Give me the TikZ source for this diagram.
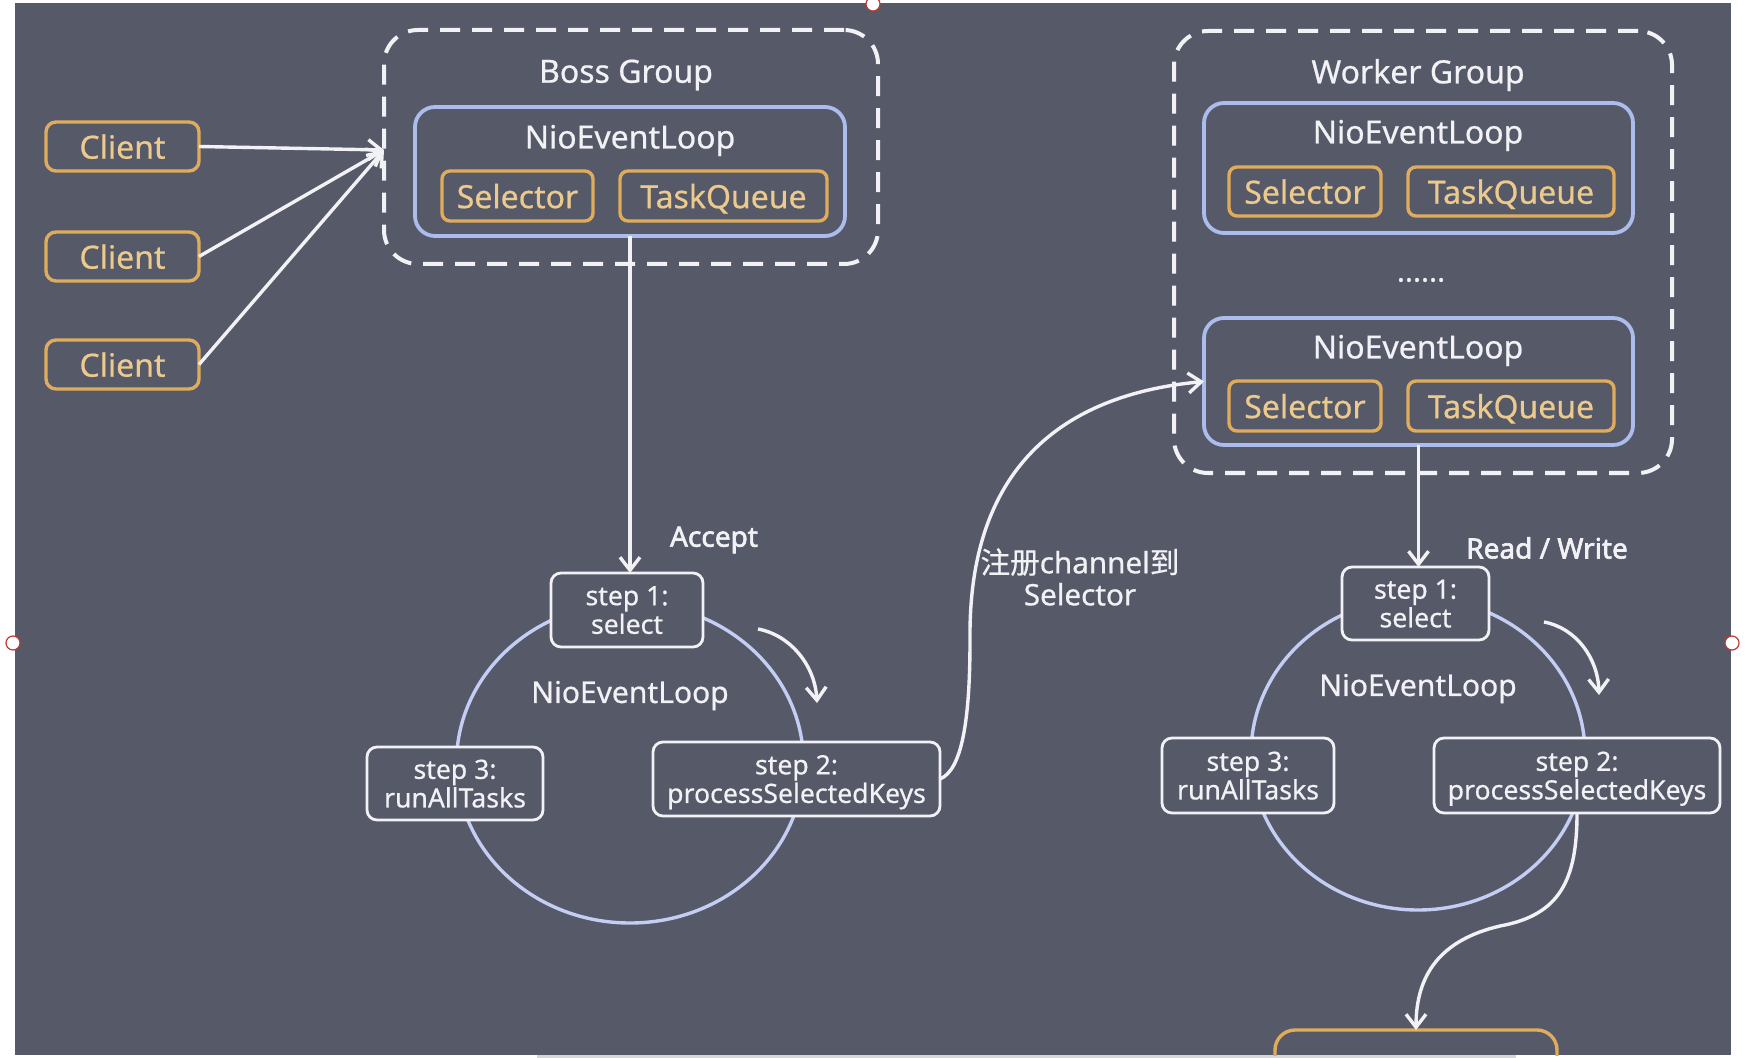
\documentclass[tikz,border=0pt]{standalone}
\usepackage{fontspec}
\setmainfont{Noto Sans}[FakeBold=0.6]
\newfontfamily\heavy{Noto Sans}[FakeBold=2.2]
\newfontfamily\cjk{Noto Sans CJK SC}[FakeBold=0.6]
\usetikzlibrary{arrows.meta,shapes.geometric}
\definecolor{bgc}{RGB}{86,89,104}
\definecolor{orb}{RGB}{224,172,92}
\definecolor{ort}{RGB}{236,202,142}
\definecolor{blb}{RGB}{172,188,236}
\definecolor{wht}{RGB}{242,242,246}
\definecolor{cir}{RGB}{196,206,244}
\definecolor{hdl}{RGB}{190,60,50}
\definecolor{barc}{RGB}{215,215,218}
\begin{document}
\begin{tikzpicture}[x=0.5pt,y=-0.5pt,
  every node/.style={inner sep=0pt,outer sep=0pt},
  group/.style={draw=wht,line width=2pt,dash pattern=on 10pt off 6pt,rounded corners=17pt},
  loopbox/.style={draw=blb,line width=1.9pt,rounded corners=10pt},
  obox/.style={draw=orb,line width=1.7pt,rounded corners=4pt,text=ort,text depth=0pt,font=\fontsize{16}{18}\selectfont},
  title/.style={text=wht,font=\fontsize{16}{18}\selectfont},
  stepbox/.style={draw=wht,line width=1.4pt,rounded corners=5pt,fill=bgc,text=wht,align=center,text depth=0pt,font=\fontsize{13.3}{12.5}\selectfont},
  ring/.style={ellipse,draw=cir,line width=1.7pt},
  arr/.style={draw=wht,line width=1.7pt,-{Straight Barb[length=6.5pt,width=10pt]}},
  lbl/.style={text=wht,font=\heavy\fontsize{14}{16}\selectfont},
]
\path[use as bounding box] (0,0) rectangle (1754,1058);
\fill[white] (0,0) rectangle (1754,1058);
\fill[bgc] (15,3) rectangle (1731,1055);
\fill[barc] (537,1055) rectangle (1516,1058);

% clients
\node[obox,minimum width=76.5pt,minimum height=24.5pt,rounded corners=5pt] (c1) at (122.5,146.5) {Client};
\node[obox,minimum width=76.5pt,minimum height=24.5pt,rounded corners=5pt] (c2) at (122.5,256.5) {Client};
\node[obox,minimum width=76.5pt,minimum height=24.5pt,rounded corners=5pt] (c3) at (122.5,364.5) {Client};

% boss group
\node[group,minimum width=247pt,minimum height=117pt] (boss) at (631,147) {};
\node[title] (bosst) at (626,75) {Boss Group};
\node[loopbox,minimum width=215pt,minimum height=64.5pt] (bnel) at (630,171.5) {};
\node[title] (bnelt) at (630,140.5) {NioEventLoop};
\node[obox,minimum width=75.5pt,minimum height=25pt] (bsel) at (517.5,196) {Selector};
\node[obox,minimum width=103.5pt,minimum height=25pt] (btq) at (723.5,196) {TaskQueue};
\coordinate (bin) at (384,150);

% worker group
\node[group,minimum width=249pt,minimum height=221pt] (worker) at (1423,252) {};
\node[title] (workert) at (1418,75) {Worker Group};
\node[loopbox,minimum width=214.5pt,minimum height=65pt] (wnel1) at (1418.5,168) {};
\node[title] (wnel1t) at (1418,135.5) {NioEventLoop};
\node[obox,minimum width=76pt,minimum height=24.5pt] (wsel1) at (1305,191.5) {Selector};
\node[obox,minimum width=103pt,minimum height=24.5pt] (wtq1) at (1511,191.5) {TaskQueue};
\node[title,font=\fontsize{15}{16}\selectfont] (dots) at (1421,280) {......};
\node[loopbox,minimum width=214.5pt,minimum height=63.5pt] (wnel2) at (1418.5,381.5) {};
\node[title] (wnel2t) at (1418,350.5) {NioEventLoop};
\node[obox,minimum width=76pt,minimum height=25pt] (wsel2) at (1305,406) {Selector};
\node[obox,minimum width=103pt,minimum height=25pt] (wtq2) at (1511,406) {TaskQueue};

% boss loop
\node[ring,minimum width=173.5pt,minimum height=160pt] (bring) at (630,763) {};
\node[title,font=\fontsize{15}{16}\selectfont] (bringt) at (630,695.5) {NioEventLoop};
\node[stepbox,minimum width=76pt,minimum height=37pt] (bs1) at (627,610) {step 1:\\select};
\node[stepbox,minimum width=88pt,minimum height=36.5pt] (bs3) at (455,783.5) {step 3:\\runAllTasks};
\node[stepbox,minimum width=143.5pt,minimum height=37pt] (bs2) at (796.5,779) {step 2:\\processSelectedKeys};
\node[lbl] (acc) at (714,540) {Accept};
\coordinate (bca) at (758,629);
\coordinate (bcb) at (817,703);

% worker loop
\node[ring,minimum width=167pt,minimum height=156pt] (wring) at (1418,754) {};
\node[title,font=\fontsize{15}{16}\selectfont] (wringt) at (1418,688.5) {NioEventLoop};
\node[stepbox,minimum width=73.5pt,minimum height=36.5pt] (ws1) at (1415.5,603.5) {step 1:\\select};
\node[stepbox,minimum width=86pt,minimum height=37.5pt] (ws3) at (1248,775.5) {step 3:\\runAllTasks};
\node[stepbox,minimum width=143pt,minimum height=37.5pt] (ws2) at (1577,775.5) {step 2:\\processSelectedKeys};
\node[lbl] (rw) at (1547,548) {Read / Write};
\coordinate (wca) at (1544,622);
\coordinate (wcb) at (1599,695);

% register label
\node[title,align=center,font=\fontsize{14.8}{16}\selectfont] (reg) at (1080,577) {{\cjk 注册}channel{\cjk 到}\\Selector};

% bottom partial box
\begin{scope}
\clip (15,3) rectangle (1731,1055);
\node[draw=orb,line width=1.7pt,rounded corners=10pt,minimum width=141pt,minimum height=60pt] (outb) at (1416,1090) {};
\end{scope}

% connectors
\draw[arr] (c1.east) -- (bin);
\draw[arr] (c2.east) -- (bin);
\draw[arr] (c3.east) -- (bin);
\draw[arr] (bnel.south) -- (bnel.south |- bs1.north);
\draw[arr] (wnel2.south) -- (wnel2.south |- ws1.north);
\draw[arr] (bca) .. controls (790,635) and (815,665) .. (bcb);
\draw[arr] (wca) .. controls (1576,628) and (1598,658) .. (wcb);
\draw[arr] (bs2.east) .. controls (962,770) and (970,720) .. (970,640) .. controls (968,470) and (1060,395) .. (wnel2.west);
\draw[arr] (ws2.south) .. controls (1577,880) and (1560,915) .. (1500,926) .. controls (1440,940) and (1416,975) .. (outb.north);

% selection handles
\draw[hdl,fill=white,line width=0.6pt] (873,4) circle (3.5pt);
\draw[hdl,fill=white,line width=0.6pt] (13,643) circle (3.5pt);
\draw[hdl,fill=white,line width=0.6pt] (1732,643) circle (3.5pt);
\end{tikzpicture}
\end{document}
